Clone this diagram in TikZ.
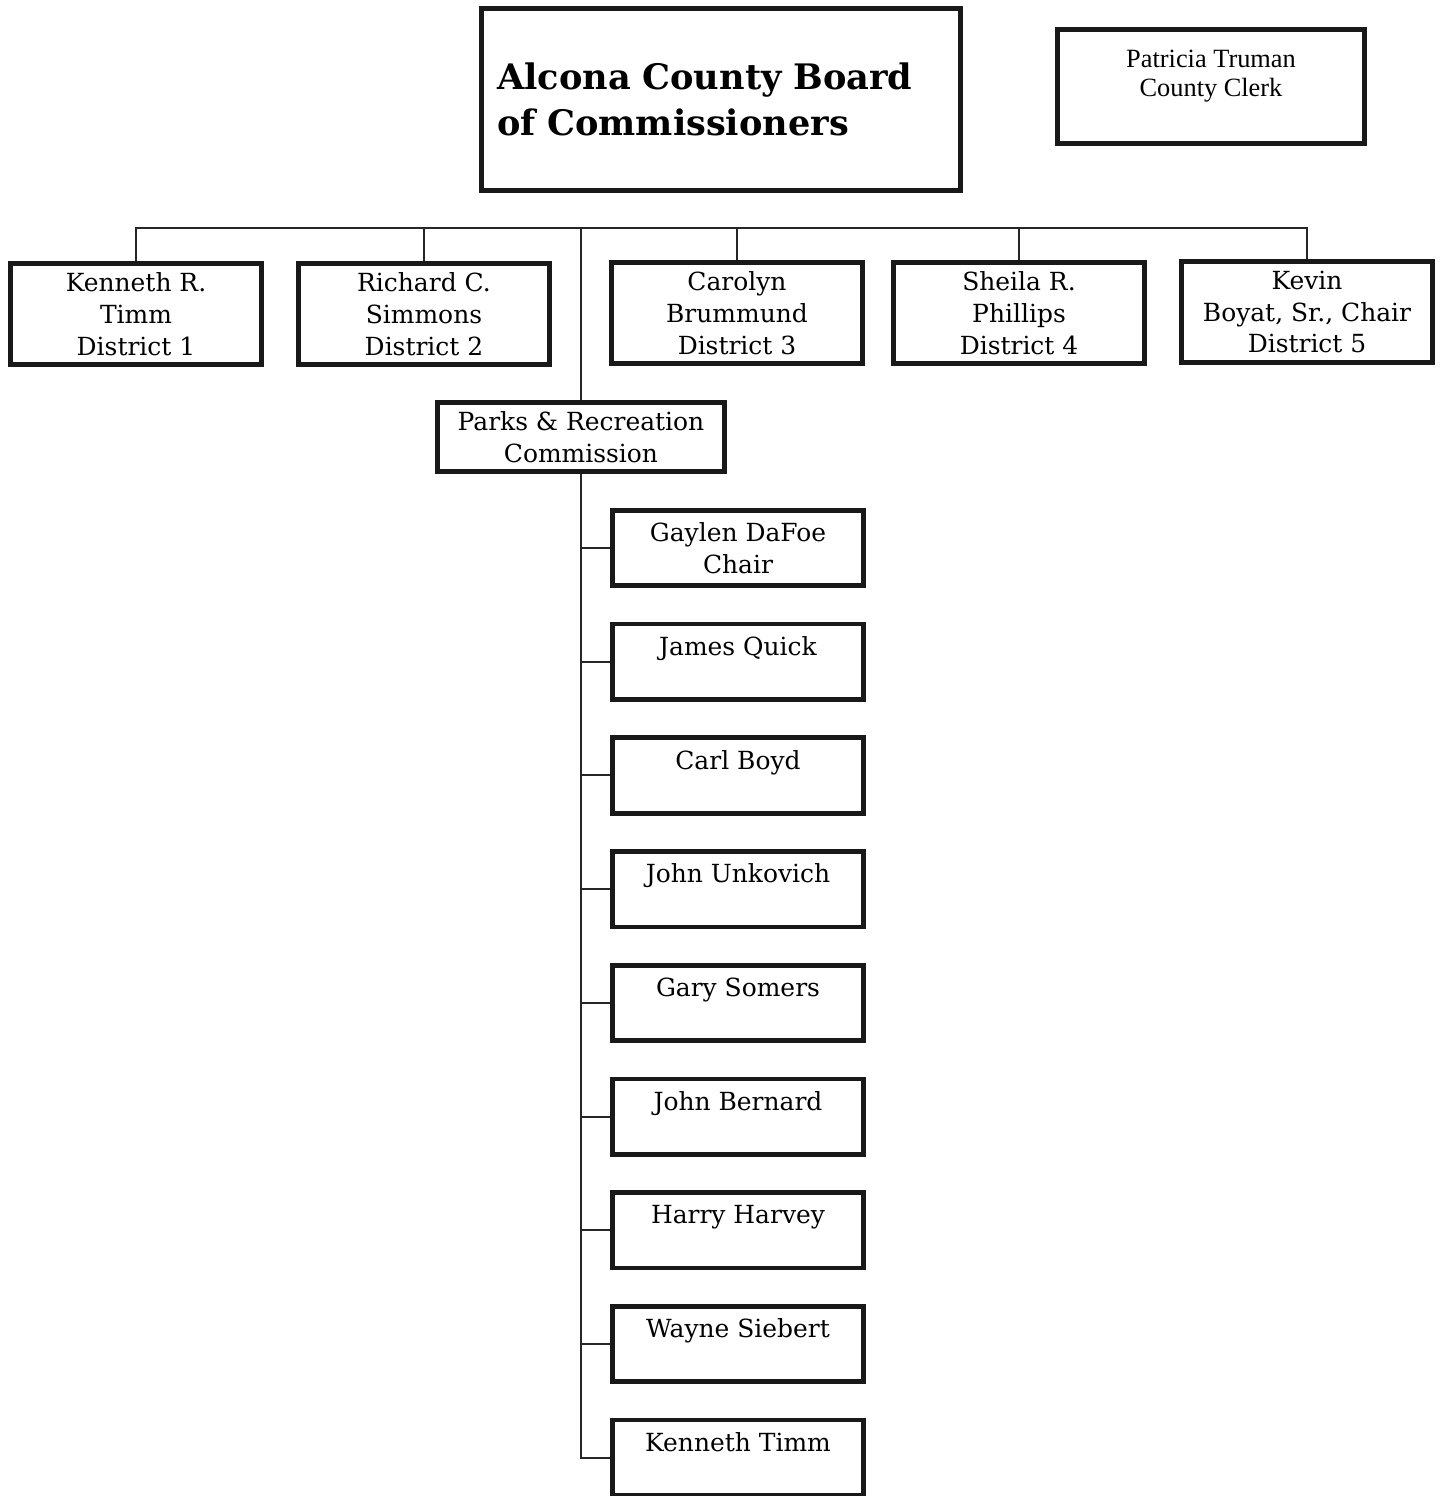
\documentclass[tikz,border=0pt]{standalone}
\usepackage{fontspec}
\setmainfont{DejaVu Serif}
\newfontfamily\clerkfont{Liberation Serif}
\usetikzlibrary{positioning, calc}

\begin{document}
\begin{tikzpicture} [
    x=0.02cm, y=-0.02cm,
    node distance=0.67cm,
    board/.style={rectangle, draw=black!90, line width=0.1cm, minimum width=9.58cm, minimum height=3.64cm, inner xsep=0.31cm, text width=8.96cm, align=left, font=\fontsize{20}{26}\selectfont\bfseries},
    district/.style={rectangle, draw=black!90, line width=0.095cm, minimum width=5.01cm, minimum height=2.01cm, inner sep=0pt, align=center, font=\fontsize{14.2}{18.1}\selectfont},
    member/.style={district, minimum height=1.51cm},
    parks/.style={district, minimum width=5.75cm, minimum height=1.39cm},
    clerkbox/.style={rectangle, draw=black!90, line width=0.095cm, minimum width=6.15cm, minimum height=2.29cm},
    clerktext/.style={inner sep=0pt, align=center, font=\clerkfont\fontsize{15}{16.2}\selectfont},
    conn/.style={draw=black!85, line width=0.04cm}
]
\useasboundingbox (0,0) rectangle (1443,1496);

% Board and clerk
\node[board] (board) at (721,99.5) {Alcona County Board\\of Commissioners};
\node[clerkbox] (clerk) at (1211,86.5) {};
\node[clerktext, anchor=north] (clerktxt) at ($(clerk.north)+(0,23)$) {Patricia Truman\\County Clerk};

% Commissioners by district
\node[district] (dist1) at (136,314) {Kenneth R.\\Timm\\District 1};
\node[district] (dist2) at (424,314) {Richard C.\\Simmons\\District 2};
\node[district] (dist3) at (737,313) {Carolyn\\Brummund\\District 3};
\node[district] (dist4) at (1019,313) {Sheila R.\\Phillips\\District 4};
\node[district] (dist5) at (1307,312) {Kevin\\Boyat, Sr., Chair\\District 5};

% Parks & Recreation Commission and its members
\node[parks] (parks) at (581,437) {Parks \& Recreation\\Commission};
\node[member] (dafoe) at (738,548) {Gaylen DaFoe\\Chair};
\node[member, below=of dafoe] (quick) {James Quick\\~};
\node[member, below=of quick] (boyd) {Carl Boyd\\~};
\node[member, below=of boyd] (unkovich) {John Unkovich\\~};
\node[member, below=of unkovich] (somers) {Gary Somers\\~};
\node[member, below=of somers] (bernard) {John Bernard\\~};
\node[member, below=of bernard] (harvey) {Harry Harvey\\~};
\node[member, below=of harvey] (siebert) {Wayne Siebert\\~};
\node[member, below=of siebert] (timm) {Kenneth Timm\\~};

% Connectors
\coordinate (bus) at (0,228);
\draw[conn] (dist1.north) -- (dist1.north |- bus) -- (dist5.north |- bus) -- (dist5.north);
\draw[conn] (dist2.north) -- (dist2.north |- bus);
\draw[conn] (dist3.north) -- (dist3.north |- bus);
\draw[conn] (dist4.north) -- (dist4.north |- bus);
\draw[conn] (parks.north |- bus) -- (parks.north);
\draw[conn] (parks.south) -- (parks.south |- timm.west) -- (timm.west);
\foreach \m in {dafoe, quick, boyd, unkovich, somers, bernard, harvey, siebert}
    \draw[conn] (parks.south |- \m.west) -- (\m.west);

\end{tikzpicture}
\end{document}
